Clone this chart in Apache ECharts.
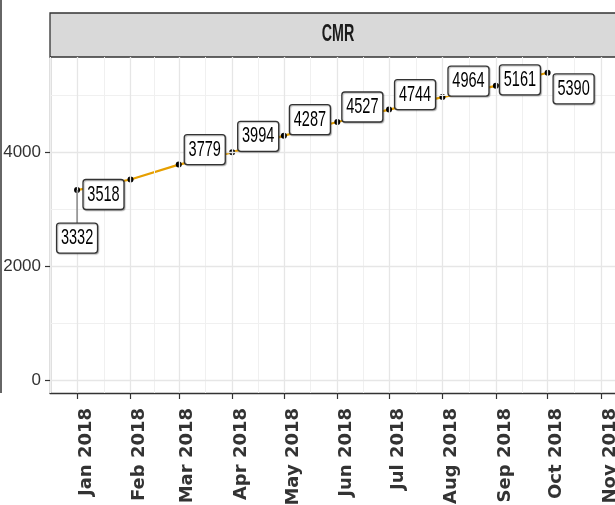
<!DOCTYPE html>
<html>
<head>
<meta charset="utf-8">
<script src="https://cdn.jsdelivr.net/npm/echarts@6/dist/echarts.min.js"></script>
<style>
  html, body { margin: 0; padding: 0; background: #fff; }
  #main { width: 615px; height: 505px; }
</style>
</head>
<body>
<div id="main"></div>
<script>
// 月份（横轴）与数值
var months = ['2018-01-01', '2018-02-01', '2018-03-01', '2018-04-01', '2018-05-01',
	'2018-06-01', '2018-07-01', '2018-08-01', '2018-09-01', '2018-10-01'];
var values = [3332, 3518, 3779, 3994, 4287, 4527, 4744, 4964, 5161, 5390];
var tickDates = ['2018-01-01', '2018-02-01', '2018-03-01', '2018-04-01', '2018-05-01', '2018-06-01',
	'2018-07-01', '2018-08-01', '2018-09-01', '2018-10-01', '2018-11-01'];
var tickLabels = ['Jan 2018', 'Feb 2018', 'Mar 2018', 'Apr 2018', 'May 2018', 'Jun 2018',
	'Jul 2018', 'Aug 2018', 'Sep 2018', 'Oct 2018', 'Nov 2018'];
var yTicks = [0, 2000, 4000];
var yMinor = [1000, 3000, 5000];
var panelTitle = 'CMR';

// 标签相对点的偏移 (label repel 的位置)
var labelOffsets = [[0, 48], [-27, 15], [26, -15], [26, -16], [26, -16],
	[25, -15], [26, -15], [26, -16], [24, -6], [26, 16]];

var DAY = 86400000;
var tickTs = tickDates.map(function(d) { return Date.parse(d); });
var xMin = tickTs[0] - 15.7 * DAY;
var xMax = tickTs[tickTs.length - 1] + 8.1 * DAY;

// 次网格线：相邻月份中点
var minorTs = [];
var allMonths = [Date.parse('2017-12-01')].concat(tickTs, [Date.parse('2018-12-01')]);
for (var i = 0; i < allMonths.length - 1; i++) {
	minorTs.push((allMonths[i] + allMonths[i + 1]) / 2);
}

var sans = '"Liberation Sans", Arial, sans-serif';

var myChart = echarts.init(document.getElementById('main'));

var seriesData = months.map(function(m, i) {
	return [Date.parse(m), values[i]];
});

function gridLine(list, key, color, width) {
	return list.map(function(v) {
		var o = { lineStyle: { color: color, width: width, type: 'solid' } };
		o[key] = v;
		return o;
	});
}

// 数值标签（带框），位置由坐标轴换算
function renderLabel(params, api) {
	var pt = api.coord([api.value(0), api.value(1)]);
	var off = labelOffsets[params.dataIndex];
	var cx = pt[0] + off[0];
	var cy = pt[1] + off[1];
	var w = 41, h = 30;
	var children = [];
	if (params.dataIndex === 0) {
		children.push({
			type: 'line',
			shape: { x1: pt[0], y1: pt[1], x2: cx, y2: cy - h / 2 },
			style: { stroke: '#777', lineWidth: 1.3 }
		});
	}
	children.push({
		type: 'rect',
		shape: { x: cx - w / 2, y: cy - h / 2, width: w, height: h, r: 3 },
		style: { fill: '#fff', stroke: '#333', lineWidth: 1.3, shadowColor: 'rgba(0,0,0,0.25)', shadowBlur: 1, shadowOffsetX: 1, shadowOffsetY: 1 }
	});
	children.push({
		type: 'text',
		x: cx,
		y: cy,
		scaleX: 0.66,
		style: {
			text: String(api.value(1)),
			fill: '#000',
			font: '22px ' + sans,
			align: 'center',
			verticalAlign: 'middle'
		}
	});
	return { type: 'group', children: children };
}

var option = {
	animation: false,
	grid: { left: 50, right: 0, top: 57, bottom: 112, outerBoundsMode: 'none', containLabel: false },
	xAxis: {
		type: 'value',
		min: xMin,
		max: xMax,
		splitLine: { show: false },
		axisLine: { show: true, onZero: false, lineStyle: { color: '#333', width: 1.3 } },
		axisTick: { show: true, length: 6, customValues: tickTs, lineStyle: { color: '#333', width: 1.2 } },
		axisLabel: {
			customValues: tickTs,
			rotate: 90,
			margin: 15,
			verticalAlign: 'top',
			fontFamily: '"DejaVu Sans", sans-serif',
			fontWeight: 'bold',
			fontSize: 18,
			color: '#333',
			formatter: function(v) {
				var idx = tickTs.indexOf(v);
				return idx >= 0 ? tickLabels[idx] : '';
			}
		}
	},
	yAxis: {
		type: 'value',
		min: -228,
		max: 5667,
		splitLine: { show: false },
		axisLine: { show: true, onZero: false, lineStyle: { color: '#333', width: 1.3 } },
		axisTick: { show: true, length: 5, customValues: yTicks, lineStyle: { color: '#333', width: 1.2 } },
		axisLabel: {
			customValues: yTicks,
			margin: 9,
			fontFamily: sans,
			fontSize: 17,
			color: '#333',
			formatter: function(v) { return String(v); }
		}
	},
	graphic: [{
		type: 'rect',
		shape: { x: 50, y: 13, width: 590, height: 44 },
		style: { fill: '#d9d9d9', stroke: '#333', lineWidth: 1.3 },
		silent: true
	}, {
		type: 'text',
		x: 338,
		y: 35,
		scaleX: 0.62,
		style: {
			text: panelTitle,
			fill: '#1a1a1a',
			font: 'bold 23px ' + sans,
			align: 'center',
			verticalAlign: 'middle'
		},
		silent: true
	}, {
		type: 'line',
		shape: { x1: 1, y1: 0, x2: 1, y2: 393 },
		style: { stroke: '#333', lineWidth: 1.5 },
		silent: true
	}],
	series: [{
		// 网格线
		type: 'line',
		data: [],
		silent: true,
		z: 1,
		markLine: {
			silent: true,
			symbol: ['none', 'none'],
			label: { show: false },
			data: [].concat(
				gridLine(minorTs, 'xAxis', '#f0f0f0', 1),
				gridLine(yMinor, 'yAxis', '#f0f0f0', 1),
				gridLine(tickTs, 'xAxis', '#e6e6e6', 1.3),
				gridLine(yTicks, 'yAxis', '#e6e6e6', 1.3)
			)
		}
	}, {
		name: panelTitle,
		type: 'line',
		z: 3,
		data: seriesData,
		symbol: 'circle',
		symbolSize: 6,
		itemStyle: { color: '#000' },
		lineStyle: { color: '#E69F00', width: 2.2 }
	}, {
		name: panelTitle + ' labels',
		type: 'custom',
		z: 5,
		data: seriesData,
		renderItem: renderLabel
	}]
};

myChart.setOption(option);
</script>
</body>
</html>
